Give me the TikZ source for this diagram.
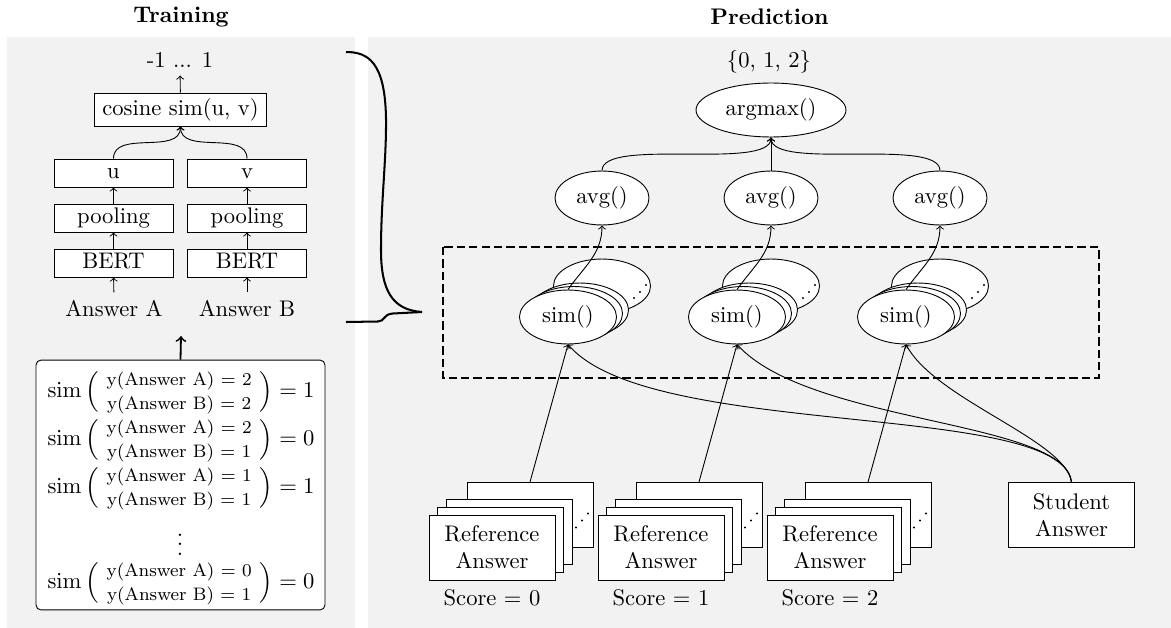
\documentclass[tikz,border=0pt]{standalone}
\usetikzlibrary{shapes.geometric}
\definecolor{panelgray}{RGB}{242,242,242}
\newcommand{\simrow}[3]{$\mathrm{sim}\,\Big(\begin{array}{@{\hspace{3.5pt}}c@{\hspace{3.5pt}}}\mbox{\footnotesize y(Answer A) = #1}\\[-1.4pt]\mbox{\footnotesize y(Answer B) = #2}\end{array}\Big) = #3$}
\begin{document}
\begin{tikzpicture}[x=0.443pt,y=0.443pt,
  ttl/.style={font=\bfseries},
  lbox/.style={draw,fill=white,minimum width=52.7pt,minimum height=12.4pt,text height=6.9pt,text depth=1.9pt,inner ysep=1.8pt},
  cbox/.style={draw,fill=white,text height=7.5pt,text depth=2.5pt,inner ysep=2.3pt},
  rbox/.style={draw,fill=white,minimum width=55.8pt,minimum height=28.8pt,align=center},
  ell/.style={ellipse,draw,fill=white,minimum height=23.9pt},
  sell/.style={ellipse,draw,fill=white,minimum width=43pt,minimum height=23.9pt},
  rowtext/.style={inner sep=0pt},
  arr/.style={->},
  bigarr/.style={->,thick},
  dashbox/.style={dash pattern=on 3.7pt off 1.8pt,line width=0.9pt},
  bracestyle/.style={line width=0.9pt},
  tbox/.style={draw,fill=white,rounded corners=2.2pt,minimum width=128pt,minimum height=110.7pt}
]
\useasboundingbox (0,0) rectangle (1171,-628);
\fill[panelgray] (7,-37) rectangle (355,-628);
\fill[panelgray] (368,-37) rectangle (1171,-628);

% titles
\node[ttl] (ttrain) at (181,-17) {Training};
\node[ttl] (tpred) at (769.5,-17) {Prediction};

% ---------------- training side
\node (range) at (180,-60) {-1 ... 1};
\node[cbox] (cos) at (180.5,-109.5) {cosine sim(u, v)};
\node[lbox] (uA) at (113.5,-173) {u};
\node[lbox] (vB) at (247,-173) {v};
\node[lbox] (poolA) at (113.5,-218) {pooling};
\node[lbox] (poolB) at (247,-218) {pooling};
\node[lbox] (bertA) at (113.5,-263) {BERT};
\node[lbox] (bertB) at (247,-263) {BERT};
\node (ansA) at (114,-308.5) {Answer A};
\node (ansB) at (247,-308.5) {Answer B};

\draw[arr] (ansA) -- (bertA);
\draw[arr] (ansB) -- (bertB);
\draw[arr] (bertA) -- (poolA);
\draw[arr] (bertB) -- (poolB);
\draw[arr] (poolA) -- (uA);
\draw[arr] (poolB) -- (vB);
\draw[arr] (uA.north) to[out=90,in=-90] (cos.south);
\draw[arr] (vB.north) to[out=90,in=-90] (cos.south);
\draw[arr] (cos) -- (range);

\node[tbox] (tb) at (180.5,-485) {};
\coordinate (bigtip) at (181,-336);
\draw[bigarr] (tb.north) -- (bigtip);
\node[rowtext] (row1) at (181,-392) {\simrow{2}{2}{1}};
\node[rowtext] (row2) at (181,-440) {\simrow{2}{1}{0}};
\node[rowtext] (row3) at (181,-488) {\simrow{1}{1}{1}};
\node[rowtext] (rowdots) at (180,-538) {$\vdots$};
\node[rowtext] (row4) at (181,-583) {\simrow{0}{1}{0}};

% brace
\draw[bracestyle] (346,-52) .. controls (368,-52) and (385,-62) .. (386,-118)
  .. controls (386.5,-160) and (381,-200) .. (381,-250)
  .. controls (381,-290) and (392,-310) .. (422,-312);
\draw[bracestyle] (346,-322) -- (378,-321.5) .. controls (385,-321.5) and (383,-314) .. (393,-313.5) -- (422,-312);

% ---------------- prediction side
\draw[dashbox] (443,-247) rectangle (1099,-378);

\node (set) at (769,-62) {\{0, 1, 2\}};
\node[ell] (am) at (771,-110) {argmax()};

\foreach \i/\s in {1/0,2/1,3/2} {
  \pgfmathsetmacro{\dx}{(\i-1)*169}
  \node[ell] (avg\i) at (602+\dx,-198) {avg()};
  % sim stack
  \node[sell] (simb\i) at (602+\dx,-286) {};
  \fill (634+\dx,-298) circle (1.1);
  \fill (640+\dx,-292) circle (1.1);
  \fill (646+\dx,-285) circle (1.1);
  \node[sell] (simc\i) at (580+\dx,-310) {};
  \node[sell] (simd\i) at (574+\dx,-313.5) {};
  \node[sell] (sim\i) at (568+\dx,-317) {sim()};
  % reference answer stack
  \node[rbox] (refb\i) at (530+\dx,-515) {};
  \fill (576+\dx,-527.5) circle (1.1);
  \fill (582+\dx,-520.5) circle (1.1);
  \fill (588+\dx,-513.5) circle (1.1);
  \node[rbox] (refc\i) at (509+\dx,-531.5) {};
  \node[rbox] (refd\i) at (500+\dx,-539.5) {};
  \node[rbox] (ref\i) at (492+\dx,-547.5) {Reference\\Answer};
  \node (score\i) at (492+\dx,-598) {Score = \s};
}

\node[rbox] (stu) at (1071.5,-515) {Student\\Answer};

% connectors
\draw[arr] (avg1.north) to[out=90,in=-90,looseness=0.5] (am.south);
\draw[arr] (avg2) -- (am);
\draw[arr] (avg3.north) to[out=90,in=-90,looseness=0.5] (am.south);
\foreach \i in {1,2,3} {
  \draw[arr] (sim\i.north) to[out=55,in=-90] (avg\i.south);
  \draw[arr] (refb\i.north) -- (sim\i.south);
}
\draw[arr] (stu.north) .. controls +(-11,82) and +(82,-96) .. (sim1.south);
\draw[arr] (stu.north) .. controls +(-6,62) and +(73,-80) .. (sim2.south);
\draw[arr] (stu.north) .. controls +(-6,42) and +(29,-55) .. (sim3.south);
\end{tikzpicture}
\end{document}
